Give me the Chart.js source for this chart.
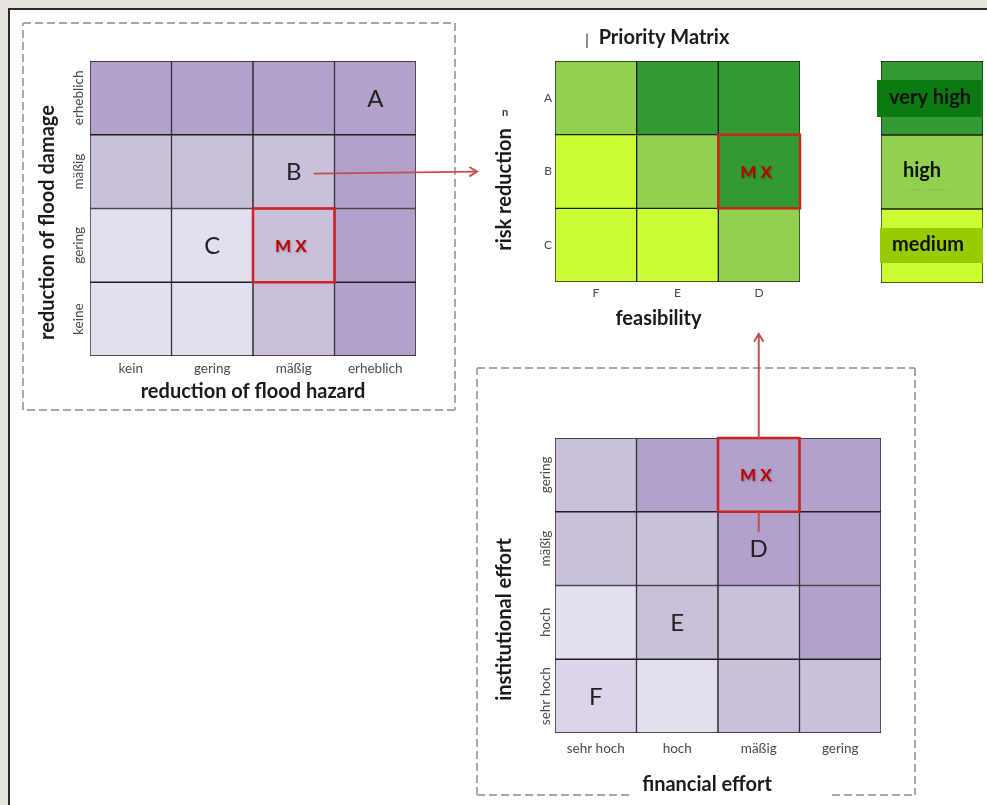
<!DOCTYPE html>
<html>
<head>
<meta charset="utf-8">
<script src="https://cdn.jsdelivr.net/npm/chart.js@4.4.1/dist/chart.umd.min.js"></script>
<style>
  html, body { margin: 0; padding: 0; }
  body { width: 987px; height: 805px; background: #e8e4dd; position: relative; overflow: hidden; }
  #panel { position: absolute; left: 8px; top: 8px; width: 1000px; height: 820px; background: #fff;
           border-left: 2px solid #2b2b2b; border-top: 2px solid #2b2b2b; }
  canvas { position: absolute; }
  #overlay { left: 0; top: 0; pointer-events: none; }
</style>
</head>
<body>
<div id="panel"></div>
<canvas id="cHazard" width="400" height="355" style="left:30px;top:50px;width:400px;height:355px"></canvas>
<canvas id="cPriority" width="368" height="320" style="left:480px;top:15px;width:368px;height:320px"></canvas>
<canvas id="cLegend" width="127" height="245" style="left:860px;top:50px;width:127px;height:245px"></canvas>
<canvas id="cEffort" width="410" height="380" style="left:490px;top:420px;width:410px;height:380px"></canvas>
<canvas id="overlay" width="987" height="805" style="width:987px;height:805px"></canvas>
<script>
// ================= DATA =================
// Matrix 1: reduction of flood hazard (x) vs reduction of flood damage (y)
const hazardLabels = ['kein', 'gering', 'mäßig', 'erheblich'];
const damageLabels = ['erheblich', 'mäßig', 'gering', 'keine'];          // top -> bottom
const damageRowErheblich = [4, 4, 4, 4];
const damageRowMaessig   = [3, 3, 3, 4];
const damageRowGering    = [1, 1, 3, 4];
const damageRowKeine     = [1, 1, 3, 4];
const riskMarks = [['A', 'erheblich', 'erheblich'], ['B', 'mäßig', 'mäßig'], ['C', 'gering', 'gering']];
const riskMeasure = ['mäßig', 'gering'];                                  // M X (column, row)

// Matrix 2: Priority Matrix, feasibility (x) vs risk reduction (y)
const feasibilityLabels = ['F', 'E', 'D'];
const riskReductionLabels = ['A', 'B', 'C'];                              // top -> bottom
const priorityRowA = ['high', 'veryHigh', 'veryHigh'];
const priorityRowB = ['medium', 'high', 'veryHigh'];
const priorityRowC = ['medium', 'medium', 'high'];
const priorityMeasure = ['D', 'B'];

// Priority legend (bottom -> top)
const priorityClasses = ['medium', 'high', 'veryHigh'];
const priorityClassLabels = ['medium', 'high', 'very high'];

// Matrix 3: financial effort (x) vs institutional effort (y)
const financialLabels = ['sehr hoch', 'hoch', 'mäßig', 'gering'];
const institutionalLabels = ['gering', 'mäßig', 'hoch', 'sehr hoch'];    // top -> bottom
const effortRowGering   = [3, 4, 4, 4];
const effortRowMaessig  = [3, 3, 4, 4];
const effortRowHoch     = [1, 3, 3, 4];
const effortRowSehrHoch = [2, 1, 3, 3];
const feasMarks = [['D', 'mäßig', 'mäßig'], ['E', 'hoch', 'hoch'], ['F', 'sehr hoch', 'sehr hoch']];
const feasMeasure = ['mäßig', 'gering'];

// ================= STYLE =================
const FONT = 'Lato, "Open Sans", sans-serif';
const purples = { 1: '#e4dfee', 2: '#dcd4e8', 3: '#cbc0dc', 4: '#b1a1cb' };
const greens = { medium: '#ccff33', high: '#92d050', veryHigh: '#339933' };
const greenTags = { veryHigh: '#0b7a12', medium: '#99cc00' };
const ARROW = '#c0504d';
const TICK = 13.5;
const TITLE = 20;

const mctx = document.createElement('canvas').getContext('2d');
function widestLabel(labels, size) {
  mctx.font = `normal ${size}px ${FONT}`;
  return Math.max(...labels.map(l => mctx.measureText(l).width));
}

function drawDecor(chart, o) {
  const { ctx, chartArea: a, scales: { x, y } } = chart;
  const rowsUp = o.rows.slice().reverse();
  ctx.save();
  ctx.textAlign = 'center';
  ctx.textBaseline = 'middle';
  ctx.fillStyle = '#222';
  ctx.font = `normal 24px ${FONT}`;
  (o.marks || []).forEach(([t, c, r]) => {
    ctx.fillText(t, x.getPixelForValue(o.cols.indexOf(c)), y.getPixelForValue(rowsUp.indexOf(r) + 0.5) + 1);
  });
  if (o.measure) {
    const ri = rowsUp.indexOf(o.measure[1]);
    const ci = o.cols.indexOf(o.measure[0]);
    const bar = chart.getDatasetMeta(ri).data[ci];
    const top = Math.min(bar.y, bar.base), h = Math.abs(bar.base - bar.y);
    ctx.strokeStyle = '#cc2222';
    ctx.lineWidth = 2.5;
    ctx.strokeRect(bar.x - bar.width / 2, top, bar.width, h);
    ctx.shadowColor = 'rgba(0,0,0,0.35)';
    ctx.shadowBlur = 2; ctx.shadowOffsetX = 1; ctx.shadowOffsetY = 1;
    ctx.fillStyle = '#c00000';
    ctx.font = `bold 17px ${FONT}`;
    ctx.fillText('M X', bar.x - 3, top + h / 2 + 1);
    ctx.shadowColor = 'transparent';
  }
  ctx.fillStyle = '#1a1a1a';
  ctx.font = `bold ${TITLE}px ${FONT}`;
  ctx.fillText(o.xTitle, (a.left + a.right) / 2 + o.xTitleDx, a.bottom + o.xTitleDy);
  ctx.save();
  ctx.translate(a.left - o.yTitleDx, (a.top + a.bottom) / 2 + o.yTitleDy);
  ctx.rotate(-Math.PI / 2);
  ctx.fillText(o.yTitle, 0, 0);
  ctx.restore();
  if (o.extra) o.extra(chart);
  ctx.restore();
}

function matrixChart(id, o) {
  const rowsUp = o.rows.slice().reverse();
  const levelsUp = o.rowLevels.slice().reverse();
  const datasets = rowsUp.map((r, i) => ({
    label: r,
    data: o.cols.map(() => 1),
    backgroundColor: levelsUp[i].map(l => o.colors[l]),
    borderColor: '#1e1e1e',
    borderWidth: 1,
    borderSkipped: false,
    barPercentage: 1,
    categoryPercentage: 1,
    stack: 'm'
  }));
  const yPad = o.yRot ? o.yTickGap - widestLabel(o.rows, o.tickSize) / 2 : o.yTickGap;
  return new Chart(document.getElementById(id), {
    type: 'bar',
    data: { labels: o.cols, datasets },
    options: {
      responsive: false,
      animation: false,
      events: [],
      layout: { padding: o.padding },
      plugins: {
        legend: { display: false },
        tooltip: { enabled: false },
        title: o.title ? {
          display: true, text: o.title, color: '#1a1a1a',
          font: { family: FONT, size: 20, weight: 'bold' },
          padding: { top: o.titlePadTop, bottom: o.titlePadBottom }
        } : { display: false }
      },
      scales: {
        x: {
          type: 'category', stacked: true, offset: true,
          grid: { display: false, drawTicks: false },
          border: { display: false },
          afterFit: s => { s.height = o.xAxisH; },
          ticks: { color: '#4a4a4a', padding: o.xTickPad, font: { family: FONT, size: o.tickSize } }
        },
        y: {
          type: 'linear', stacked: true, min: 0, max: o.rows.length,
          grid: { display: false, drawTicks: false },
          border: { display: false },
          afterBuildTicks: s => { s.ticks = rowsUp.map((_, i) => ({ value: i + 0.5 })); },
          afterFit: s => { s.width = o.yAxisW; },
          ticks: {
            autoSkip: false,
            callback: (v, i) => rowsUp[i],
            minRotation: o.yRot ? 90 : 0, maxRotation: o.yRot ? 90 : 0,
            crossAlign: o.yRot ? 'center' : 'near',
            padding: yPad,
            color: '#4a4a4a',
            font: { family: FONT, size: o.tickSize }
          }
        }
      }
    },
    plugins: [{ id: 'decor', afterDraw: c => drawDecor(c, o) }]
  });
}

// ================= CHARTS =================
const hazardChart = matrixChart('cHazard', {
  cols: hazardLabels, rows: damageLabels,
  rowLevels: [damageRowErheblich, damageRowMaessig, damageRowGering, damageRowKeine],
  colors: purples, marks: riskMarks, measure: riskMeasure,
  padding: { top: 11, right: 14, left: 0, bottom: 0 },
  yAxisW: 60, xAxisH: 49, tickSize: TICK, yRot: true, yTickGap: 11, xTickPad: 5,
  xTitle: 'reduction of flood hazard', xTitleDx: 0, xTitleDy: 36,
  yTitle: 'reduction of flood damage', yTitleDx: 42, yTitleDy: 14
});

const priorityChart = matrixChart('cPriority', {
  cols: feasibilityLabels, rows: riskReductionLabels,
  rowLevels: [priorityRowA, priorityRowB, priorityRowC],
  colors: greens, measure: priorityMeasure,
  title: 'Priority Matrix', titlePadTop: 11, titlePadBottom: 11,
  padding: { top: 0, right: 48, left: 48, bottom: 0 },
  yAxisW: 27, xAxisH: 53, tickSize: 12, yRot: false, yTickGap: 3, xTickPad: 4,
  xTitle: 'feasibility', xTitleDx: -19, xTitleDy: 37,
  yTitle: 'risk reduction', yTitleDx: 50, yTitleDy: 18,
  extra: c => {
    const { ctx, chartArea: a } = c;
    ctx.fillStyle = '#333';
    ctx.font = `normal 16px ${FONT}`;
    ctx.fillText('|', a.left + 32, a.top - 21);
    ctx.font = `bold 11px ${FONT}`;
    ctx.fillText('n', a.left - 50, a.top + 51);
  }
});

const legendChart = new Chart(document.getElementById('cLegend'), {
  type: 'bar',
  data: {
    labels: ['priority'],
    datasets: priorityClasses.map((c, i) => ({
      label: priorityClassLabels[i], data: [1],
      backgroundColor: greens[c], borderColor: '#1e1e1e', borderWidth: 1, borderSkipped: false,
      barPercentage: 1, categoryPercentage: 1, stack: 'p'
    }))
  },
  options: {
    responsive: false, animation: false, events: [],
    layout: { padding: { left: 21, right: 4, top: 11, bottom: 12 } },
    plugins: { legend: { display: false }, tooltip: { enabled: false } },
    scales: {
      x: { display: false, stacked: true, offset: true },
      y: { display: false, stacked: true, min: 0, max: priorityClasses.length }
    }
  },
  plugins: [{
    id: 'legendDecor',
    afterDraw(c) {
      const { ctx, chartArea: a } = c;
      ctx.save();
      ctx.textAlign = 'center';
      ctx.textBaseline = 'middle';
      ctx.font = `bold 20px ${FONT}`;
      priorityClasses.forEach((cls, i) => {
        const bar = c.getDatasetMeta(i).data[0];
        const cy = (bar.y + bar.base) / 2;
        if (cls === 'veryHigh') {
          ctx.fillStyle = greenTags.veryHigh;
          ctx.fillRect(a.left - 4, cy - 18, a.right - a.left + 4, 37);
          ctx.fillStyle = '#111';
          ctx.fillText(priorityClassLabels[i], bar.x - 2, cy);
        } else if (cls === 'medium') {
          ctx.fillStyle = greenTags.medium;
          ctx.fillRect(a.left - 1, cy - 18, a.right - a.left + 1, 35);
          ctx.fillStyle = '#111';
          ctx.fillText(priorityClassLabels[i], bar.x - 4, cy - 1);
        } else {
          ctx.fillStyle = '#111';
          ctx.fillText(priorityClassLabels[i], bar.x - 10, cy - 1);
          ctx.strokeStyle = 'rgba(90,90,90,0.35)';
          ctx.setLineDash([1, 2]);
          ctx.lineWidth = 1;
          ctx.beginPath(); ctx.moveTo(bar.x - 25, cy + 18); ctx.lineTo(bar.x + 18, cy + 18); ctx.stroke();
          ctx.setLineDash([]);
        }
      });
      ctx.restore();
    }
  }]
});

const effortChart = matrixChart('cEffort', {
  cols: financialLabels, rows: institutionalLabels,
  rowLevels: [effortRowGering, effortRowMaessig, effortRowHoch, effortRowSehrHoch],
  colors: purples, marks: feasMarks, measure: feasMeasure,
  padding: { top: 18, right: 19, left: 0, bottom: 0 },
  yAxisW: 65, xAxisH: 67, tickSize: TICK, yRot: true, yTickGap: 9, xTickPad: 8,
  xTitle: 'financial effort', xTitleDx: -11, xTitleDy: 52,
  yTitle: 'institutional effort', yTitleDx: 50, yTitleDy: 34
});

// ================= OVERLAY: frames & arrows =================
(function overlay() {
  const ctx = document.getElementById('overlay').getContext('2d');
  const off = ch => { const r = ch.canvas.getBoundingClientRect(); return [r.left, r.top]; };
  const cellOf = (ch, cols, rows, col, row) => {
    const rowsUp = rows.slice().reverse();
    return ch.getDatasetMeta(rowsUp.indexOf(row)).data[cols.indexOf(col)];
  };

  // dashed frames
  ctx.strokeStyle = '#a8a8a8';
  ctx.lineWidth = 2;
  ctx.setLineDash([8, 4]);
  const seg = (x1, y1, x2, y2) => { ctx.beginPath(); ctx.moveTo(x1, y1); ctx.lineTo(x2, y2); ctx.stroke(); };
  const [hx, hy] = off(hazardChart);
  const ha = hazardChart.chartArea;
  const L1 = hx + ha.left - 67, T1 = hy + ha.top - 38, R1 = hx + ha.right + 39, B1 = hy + ha.bottom + 54;
  seg(L1, T1, R1, T1); seg(R1, T1, R1, B1); seg(R1, B1, L1, B1); seg(L1, B1, L1, T1);
  const [ex, ey] = off(effortChart);
  const ea = effortChart.chartArea;
  const L2 = ex + ea.left - 78, T2 = ey + ea.top - 70, R2 = ex + ea.right + 34, B2 = ey + ea.bottom + 62;
  seg(L2, T2, R2, T2); seg(R2, T2, R2, B2); seg(L2, B2, L2, T2);
  seg(L2, B2, ex + ea.left + 77, B2); seg(ex + ea.left + 277, B2, R2, B2);
  ctx.setLineDash([]);

  // arrows
  ctx.strokeStyle = ARROW;
  ctx.lineWidth = 2;
  const head = (x, y, ang) => {
    const s = 9, w = 0.55;
    ctx.beginPath();
    ctx.moveTo(x - s * Math.cos(ang - w), y - s * Math.sin(ang - w));
    ctx.lineTo(x, y);
    ctx.lineTo(x - s * Math.cos(ang + w), y - s * Math.sin(ang + w));
    ctx.stroke();
  };
  // B -> priority matrix
  const bCell = cellOf(hazardChart, hazardLabels, damageLabels, 'mäßig', 'mäßig');
  const x1 = hx + bCell.x + 20, y1 = hy + (bCell.y + bCell.base) / 2 + 2;
  const [px, py] = off(priorityChart);
  const pa = priorityChart.chartArea;
  const x2 = px + pa.left - 78, y2 = y1 - 2;
  ctx.beginPath(); ctx.moveTo(x1, y1); ctx.lineTo(x2, y2); ctx.stroke();
  head(x2, y2, Math.atan2(y2 - y1, x2 - x1));
  // M X (effort) -> priority matrix
  const mCell = cellOf(effortChart, financialLabels, institutionalLabels, 'mäßig', 'gering');
  const ax = ex + mCell.x;
  const aTop = py + pa.bottom + 52;
  ctx.beginPath(); ctx.moveTo(ax, ey + Math.min(mCell.y, mCell.base)); ctx.lineTo(ax, aTop); ctx.stroke();
  head(ax, aTop, -Math.PI / 2);
  ctx.beginPath(); ctx.moveTo(ax, ey + Math.max(mCell.y, mCell.base)); ctx.lineTo(ax, ey + Math.max(mCell.y, mCell.base) + 20); ctx.stroke();
})();
</script>
</body>
</html>
